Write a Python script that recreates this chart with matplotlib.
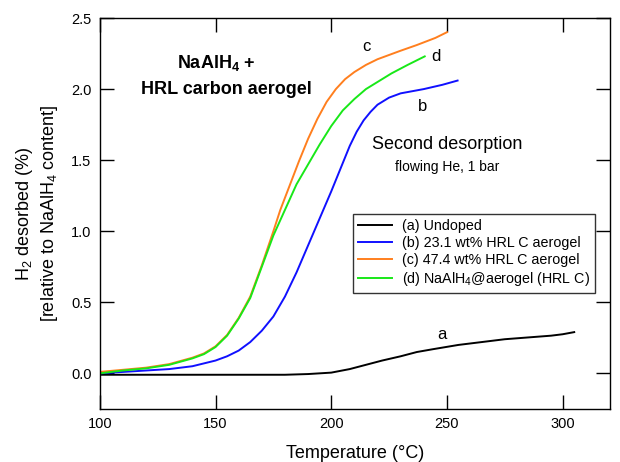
import matplotlib.pyplot as plt

plt.rcParams['font.family'] = ['Liberation Sans', 'DejaVu Sans']
plt.rcParams['mathtext.fontset'] = 'custom'
plt.rcParams['mathtext.rm'] = 'Liberation Sans'
plt.rcParams['mathtext.bf'] = 'Liberation Sans:bold'

# (a) undoped
t_a = [100, 150, 180, 190, 200, 208, 215, 222, 230, 237, 244, 255, 265, 275, 287, 295, 300, 305]
h_a = [-0.01, -0.01, -0.01, -0.005, 0.005, 0.03, 0.06, 0.09, 0.12, 0.15, 0.17, 0.20, 0.22, 0.24, 0.255, 0.265, 0.275, 0.29]

# (b) 23.1 wt% HRL C aerogel
t_b = [100, 110, 120, 130, 140, 150, 155, 160, 165, 170, 175, 180, 185, 190, 195, 200, 205, 208,
       211, 214, 217, 220, 225, 230, 240, 248, 254.6]
h_b = [0.0, 0.01, 0.02, 0.03, 0.05, 0.09, 0.12, 0.16, 0.22, 0.30, 0.40, 0.54, 0.71, 0.90, 1.09, 1.28,
       1.48, 1.60, 1.70, 1.78, 1.84, 1.89, 1.94, 1.97, 2.00, 2.03, 2.06]

# (c) 47.4 wt% HRL C aerogel
t_c = [100, 110, 120, 130, 140, 145, 150, 155, 160, 165, 170, 175, 178, 182, 186, 190, 194, 198,
       202, 206, 210, 215, 220, 225, 230, 237, 245, 250]
h_c = [0.01, 0.025, 0.04, 0.065, 0.11, 0.14, 0.19, 0.27, 0.39, 0.54, 0.76, 1.00, 1.15, 1.32, 1.49,
       1.65, 1.79, 1.91, 2.00, 2.07, 2.12, 2.17, 2.21, 2.24, 2.27, 2.31, 2.36, 2.40]

# (d) NaAlH4@aerogel (HRL C)
t_d = [100, 110, 120, 130, 140, 145, 150, 155, 160, 165, 170, 175, 180, 185, 190, 195, 200, 205,
       210, 215, 220, 226, 233, 240.4]
h_d = [0.0, 0.02, 0.035, 0.06, 0.105, 0.135, 0.185, 0.265, 0.385, 0.53, 0.75, 0.97, 1.15, 1.33,
       1.47, 1.61, 1.74, 1.85, 1.93, 2.00, 2.05, 2.11, 2.17, 2.23]

fig = plt.figure(figsize=(6.2, 4.62), dpi=100)
ax = fig.add_axes([0.161, 0.115, 0.823, 0.846])

ax.plot(t_a, h_a, color='black', lw=1.4, label='(a) Undoped')
ax.plot(t_b, h_b, color='#1010ff', lw=1.4, label='(b) 23.1 wt% HRL C aerogel')
ax.plot(t_c, h_c, color='#ff7f1e', lw=1.4, label='(c) 47.4 wt% HRL C aerogel')
ax.plot(t_d, h_d, color='#18e818', lw=1.4, label='(d) NaAlH$_4$@aerogel (HRL C)')

ax.set_xlim(100, 320.5)
ax.set_ylim(-0.25, 2.5)
ax.set_xticks([100, 150, 200, 250, 300])
ax.set_yticks([0.0, 0.5, 1.0, 1.5, 2.0, 2.5])
ax.set_yticklabels(['0.0', '0.5', '1.0', '1.5', '2.0', '2.5'])
ax.tick_params(direction='in', top=True, right=True, length=10, width=1, labelsize=10.5,
               colors='black', pad=6)
for s in ax.spines.values():
    s.set_linewidth(1)

ax.set_xlabel('Temperature (°C)', fontsize=13, labelpad=10)
ax.set_ylabel('H$_2$ desorbed (%)\n[relative to NaAlH$_4$ content]', fontsize=13, labelpad=8,
              linespacing=1.25)

# curve labels
ax.text(215.4, 2.30, 'c', fontsize=12, ha='center', va='center')
ax.text(245.2, 2.23, 'd', fontsize=12, ha='center', va='center')
ax.text(239.4, 1.88, 'b', fontsize=12, ha='center', va='center')
ax.text(248.0, 0.27, 'a', fontsize=12, ha='center', va='center')

ax.text(150.2, 2.18, 'NaAlH$_\\mathbf{4}$ +', fontsize=13, fontweight='bold', ha='center', va='center')
ax.text(154.5, 2.00, 'HRL carbon aerogel', fontsize=13, fontweight='bold', ha='center', va='center')
ax.text(250, 1.61, 'Second desorption', fontsize=13, ha='center', va='center')
ax.text(250, 1.45, 'flowing He, 1 bar', fontsize=10, ha='center', va='center')

leg = ax.legend(loc='upper left', bbox_to_anchor=(0.496, 0.499), fontsize=10.3, frameon=True,
                fancybox=False, edgecolor='black', handlelength=2.4, borderpad=0.35,
                labelspacing=0.22, handletextpad=0.7, borderaxespad=0)
leg.get_frame().set_linewidth(1)

fig.savefig('out.png', dpi=100)
